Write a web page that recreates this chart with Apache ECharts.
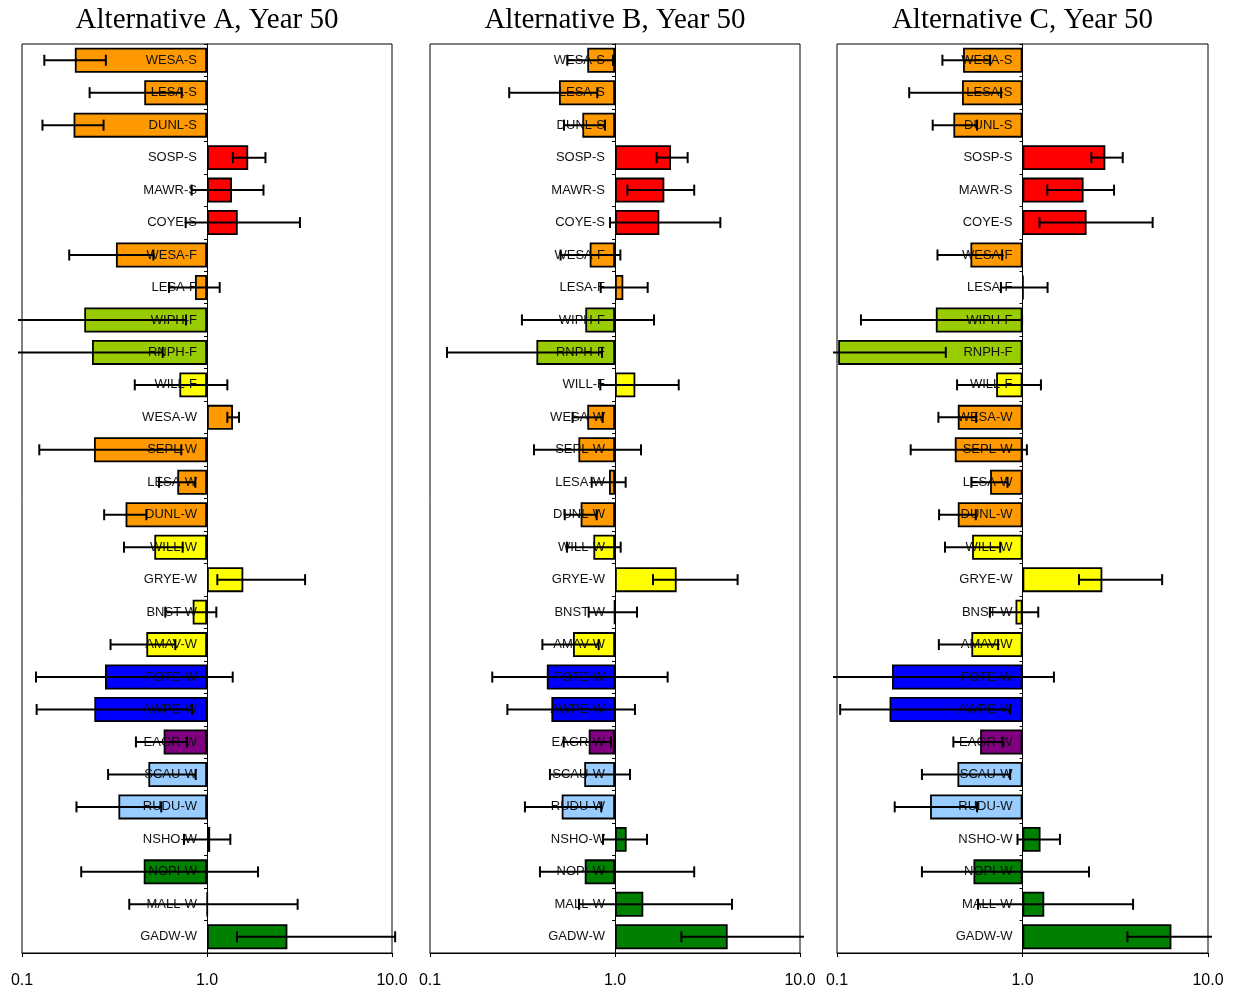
<!DOCTYPE html>
<html><head><meta charset="utf-8">
<script src="https://cdn.jsdelivr.net/npm/echarts@6/dist/echarts.min.js"></script>
<style>html,body{margin:0;padding:0;background:#fff}#c{width:1238px;height:993px}</style>
</head><body><div id="c"></div>
<script>
const categories = ['WESA-S','LESA-S','DUNL-S','SOSP-S','MAWR-S','COYE-S','WESA-F','LESA-F','WIPH-F','RNPH-F','WILL-F','WESA-W','SEPL-W','LESA-W','DUNL-W','WILL-W','GRYE-W','BNST-W','AMAV-W','FOTE-W','AWPE-W','EAGR-W','SCAU-W','RUDU-W','NSHO-W','NOPI-W','MALL-W','GADW-W'];
const panelTitles = ['Alternative A, Year 50','Alternative B, Year 50','Alternative C, Year 50'];
const xTickValues = [0.1, 1, 10];

const valuesA = [0.193,0.458,0.190,1.67,1.365,1.466,0.322,0.861,0.217,0.239,0.709,1.382,0.245,0.691,0.363,0.519,1.571,0.837,0.470,0.281,0.246,0.583,0.482,0.332,1.04,0.455,1.005,2.72];
const lowA    = [0.132,0.232,0.129,1.38,0.826,0.767,0.180,0.623,0.08,0.08,0.407,1.288,0.124,0.55,0.278,0.356,1.137,0.595,0.301,0.119,0.120,0.413,0.292,0.197,0.751,0.209,0.38,1.452];
const highA   = [0.284,0.730,0.276,2.07,2.02,3.18,0.513,1.171,0.770,0.576,1.288,1.489,0.726,0.865,0.470,0.739,3.39,1.123,0.674,1.377,0.830,0.780,0.869,0.566,1.337,1.887,3.09,10.4];

const valuesB = [0.708,0.498,0.666,2.008,1.848,1.736,0.730,1.109,0.691,0.376,1.288,0.708,0.634,0.928,0.652,0.764,2.154,0.99,0.593,0.428,0.453,0.721,0.682,0.515,1.156,0.686,1.422,4.065];
const lowB    = [0.552,0.268,0.530,1.68,1.166,0.94,0.508,0.837,0.314,0.1236,0.833,0.590,0.365,0.748,0.535,0.550,1.605,0.721,0.405,0.217,0.262,0.528,0.445,0.326,0.861,0.393,0.639,2.284];
const highB   = [0.975,0.802,0.883,2.47,2.68,3.71,1.069,1.502,1.625,0.851,2.21,0.858,1.382,1.142,0.796,1.073,4.60,1.315,0.816,1.926,1.282,0.951,1.205,0.843,1.489,2.68,4.29,12];

const valuesC = [0.478,0.472,0.424,2.796,2.135,2.216,0.524,1.01,0.341,0.1015,0.721,0.448,0.4315,0.669,0.448,0.535,2.694,0.917,0.530,0.198,0.192,0.591,0.446,0.3175,1.251,0.544,1.31,6.35];
const lowC    = [0.370,0.245,0.328,2.35,1.36,1.235,0.348,0.765,0.1346,0.08,0.444,0.352,0.2496,0.530,0.355,0.382,2.016,0.667,0.354,0.08,0.104,0.424,0.287,0.2047,0.94,0.287,0.576,3.675];
const highC   = [0.669,0.767,0.569,3.47,3.115,5.03,0.777,1.365,0.995,0.386,1.257,0.5625,1.056,0.830,0.560,0.758,5.66,1.216,0.739,1.477,0.858,0.783,0.858,0.569,1.592,2.283,3.945,12];

// styles
const OR='#FF9900', RD='#FF0000', YG='#99CC00', YL='#FFFF00', BL='#0000FF', PU='#800080', LB='#99CCFF', GR='#008000';
const barColors = [OR,OR,OR,RD,RD,RD,OR,OR,YG,YG,YL,OR,OR,OR,OR,YL,YL,YL,YL,BL,BL,PU,LB,LB,GR,GR,GR,GR];

const panels = [
  {values: valuesA, low: lowA, high: highA, left: 22, width: 370},
  {values: valuesB, low: lowB, high: highB, left: 430, width: 370},
  {values: valuesC, low: lowC, high: highC, left: 837, width: 371}
];

function renderErr(params, api) {
  const lo = api.value(0), hi = api.value(1), cat = api.value(2);
  const p1 = api.coord([lo, cat]), p2 = api.coord([hi, cat]);
  const cs = params.coordSys;
  const xmin = cs.x - 4, xmax = cs.x + cs.width + 4;
  let x1 = p1[0], x2 = p2[0];
  const y = p1[1];
  const clipL = x1 < xmin, clipR = x2 > xmax;
  x1 = Math.max(x1, xmin); x2 = Math.min(x2, xmax);
  const st = {stroke: '#000', lineWidth: 2};
  const ch = [{type: 'line', shape: {x1: x1, y1: y, x2: x2, y2: y}, style: st}];
  if (!clipL) ch.push({type: 'line', shape: {x1: x1, y1: y - 5.5, x2: x1, y2: y + 5.5}, style: st});
  if (!clipR) ch.push({type: 'line', shape: {x1: x2, y1: y - 5.5, x2: x2, y2: y + 5.5}, style: st});
  return {type: 'group', children: ch};
}

const option = {
  animation: false,
  backgroundColor: '#fff',
  title: panels.map((p, i) => ({
    text: panelTitles[i],
    left: p.left + p.width / 2 - 5,
    top: 1,
    textAlign: 'center',
    textStyle: {fontFamily: 'Liberation Serif, Times New Roman, serif', fontSize: 29, fontWeight: 'normal', color: '#000'}
  })),
  grid: panels.map(p => ({left: p.left, width: p.width, top: 44, height: 909, show: true, borderColor: '#000', borderWidth: 1, containLabel: false})),
  xAxis: panels.map((p, i) => ({
    gridIndex: i, type: 'log', logBase: 10, min: xTickValues[0], max: xTickValues[2],
    axisLine: {show: true, lineStyle: {color: '#000', width: 1}},
    axisTick: {show: true, length: 4, lineStyle: {color: '#000'}}, splitLine: {show: false}, minorTick: {show: false},
    axisLabel: {formatter: v => Number(v).toFixed(1), fontSize: 16, color: '#000', margin: 20, fontFamily: 'Liberation Sans, Arial, sans-serif'}
  })),
  yAxis: panels.map((p, i) => ({
    gridIndex: i, type: 'category', data: categories, inverse: true,
    offset: -p.width / 2, z: 3,
    axisLine: {show: true, onZero: false, lineStyle: {color: '#000', width: 1}},
    axisTick: {show: true, length: 3, lineStyle: {color: '#000'}},
    axisLabel: {margin: 10, fontSize: 13, color: '#111', fontFamily: 'Liberation Sans, Arial, sans-serif'},
    splitLine: {show: false}
  })),
  series: []
};

panels.forEach((p, i) => {
  option.series.push({
    type: 'bar', xAxisIndex: i, yAxisIndex: i, z: 2, barWidth: '77%',
    itemStyle: {borderColor: '#000', borderWidth: 1.8},
    data: p.values.map((v, k) => ({value: v, itemStyle: {color: barColors[k]}}))
  });
  option.series.push({
    type: 'custom', xAxisIndex: i, yAxisIndex: i, z: 5,
    renderItem: renderErr,
    encode: {x: [0, 1], y: 2},
    data: p.values.map((v, k) => [p.low[k], p.high[k], k])
  });
});

const chart = echarts.init(document.getElementById('c'), null, {renderer: 'canvas'});
chart.setOption(option);
</script>
</body></html>
